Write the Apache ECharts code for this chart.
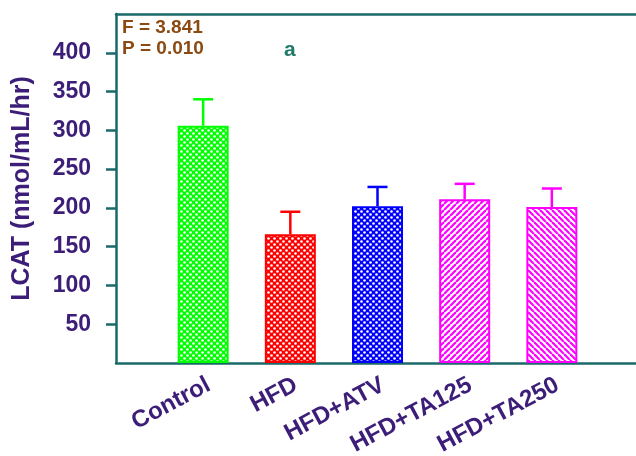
<!DOCTYPE html>
<html>
<head>
<meta charset="utf-8">
<script src="https://cdn.jsdelivr.net/npm/echarts@6/dist/echarts.min.js"></script>
<style>
  html, body { margin: 0; padding: 0; background: #ffffff; }
  #chart { width: 636px; height: 456px; }
</style>
</head>
<body>
<div id="chart"></div>
<script>
// Group labels, means and upper error (SEM) for LCAT activity
const groups = ['Control', 'HFD', 'HFD+ATV', 'HFD+TA125', 'HFD+TA250'];
const means = [306, 166, 202, 211, 201];
const errors = [34, 29, 25, 20, 24];
const yTicks = [50, 100, 150, 200, 250, 300, 350, 400];
const statF = 'F = 3.841';
const statP = 'P = 0.010';
const sigMark = 'a';

const barColors = ['#00ff00', '#ff0000', '#0000ff', '#ff00ff', '#ff00ff'];
const fills = ['dots', 'dots', 'dots', 'fwd', 'back'];

// Repeating fill tiles: crosshatch with white holes, and diagonal hatching
function makeTile(kind, color) {
  const s = 6;
  const c = document.createElement('canvas');
  c.width = s; c.height = s;
  const g = c.getContext('2d');
  if (kind === 'dots') {
    g.fillStyle = color;
    g.fillRect(0, 0, s, s);
    g.fillStyle = '#ffffff';
    [[1.5, 1.5], [4.5, 4.5]].forEach(p => {
      g.beginPath();
      g.arc(p[0], p[1], 1.3, 0, Math.PI * 2);
      g.fill();
    });
  } else {
    g.fillStyle = '#ffffff';
    g.fillRect(0, 0, s, s);
    g.strokeStyle = color;
    g.lineWidth = 2.2;
    for (let k = -1; k <= 1; k++) {
      g.beginPath();
      if (kind === 'fwd') {
        g.moveTo(k * s, s); g.lineTo(k * s + s, 0);
      } else {
        g.moveTo(k * s, 0); g.lineTo(k * s + s, s);
      }
      g.stroke();
    }
  }
  return c;
}

// Category slots: one blank slot each side so bars sit on ticks 1..5
const cats = [''].concat(groups, ['']);
const barData = ['-'].concat(means.map((v, i) => ({
  value: v,
  itemStyle: {
    color: { image: makeTile(fills[i], barColors[i]), repeat: 'repeat' },
    borderColor: barColors[i],
    borderWidth: 2
  }
})), ['-']);
const errData = means.map((v, i) => [i + 1, v, v + errors[i], i]);

const axisColor = '#1b6a6a';
const labelColor = '#3c1d78';
const font = "'Liberation Sans', Arial, sans-serif";

const chart = echarts.init(document.getElementById('chart'), null, { renderer: 'canvas' });
chart.setOption({
  animation: false,
  grid: { left: 116, top: 14, right: -3, bottom: 93, containLabel: false, outerBoundsMode: 'none' },
  xAxis: [{
    type: 'category',
    data: cats,
    boundaryGap: false,
    axisLine: { lineStyle: { color: axisColor, width: 2.5 } },
    axisTick: { show: false },
    axisLabel: {
      rotate: 28,
      margin: 10,
      verticalAlign: 'top',
      color: labelColor,
      fontFamily: font,
      fontWeight: 'bold',
      fontSize: 24,
      interval: 0
    },
    splitLine: { show: false }
  }, {
    type: 'category',
    data: cats,
    position: 'top',
    boundaryGap: false,
    axisLine: { show: true, lineStyle: { color: axisColor, width: 2.5 } },
    axisTick: { show: false },
    axisLabel: { show: false }
  }],
  yAxis: {
    type: 'value',
    min: 0,
    max: 450,
    interval: 50,
    name: 'LCAT (nmol/mL/hr)',
    nameLocation: 'middle',
    nameGap: 81,
    nameTextStyle: { color: labelColor, fontFamily: font, fontWeight: 'bold', fontSize: 25 },
    axisLine: { show: true, lineStyle: { color: axisColor, width: 2.5 } },
    axisTick: { show: true, length: 10, customValues: yTicks, lineStyle: { color: axisColor, width: 2.5 } },
    axisLabel: {
      customValues: yTicks,
      margin: 25,
      color: labelColor,
      fontFamily: font,
      fontWeight: 'bold',
      fontSize: 23
    },
    splitLine: { show: false }
  },
  series: [{
    type: 'bar',
    data: barData,
    barWidth: 51,
    z: 2
  }, {
    type: 'custom',
    data: errData,
    z: 3,
    renderItem: function (params, api) {
      const top = api.coord([api.value(0), api.value(2)]);
      const base = api.coord([api.value(0), api.value(1)]);
      const col = barColors[api.value(3)];
      const half = 10;
      return {
        type: 'group',
        children: [{
          type: 'line',
          shape: { x1: base[0], y1: base[1], x2: top[0], y2: top[1] },
          style: { stroke: col, lineWidth: 2.5 }
        }, {
          type: 'line',
          shape: { x1: top[0] - half, y1: top[1], x2: top[0] + half, y2: top[1] },
          style: { stroke: col, lineWidth: 2.5 }
        }]
      };
    }
  }],
  graphic: [{
    type: 'text', left: 122, top: 18,
    style: { text: statF, fill: '#8b4a12', font: "bold 19px 'Liberation Sans', Arial, sans-serif" }
  }, {
    type: 'text', left: 122, top: 39,
    style: { text: statP, fill: '#8b4a12', font: "bold 19px 'Liberation Sans', Arial, sans-serif" }
  }, {
    type: 'text', left: 284, top: 40,
    style: { text: sigMark, fill: '#1f7a6a', font: "bold 21px 'Liberation Sans', Arial, sans-serif" }
  }]
});
</script>
</body>
</html>
